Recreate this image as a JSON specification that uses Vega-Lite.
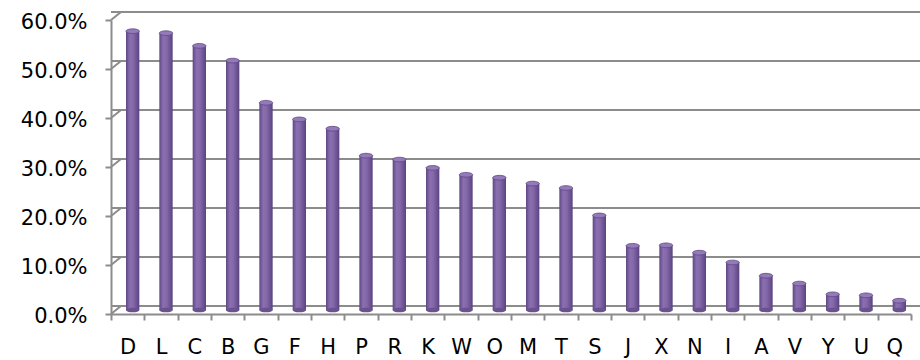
{
  "$schema": "https://vega.github.io/schema/vega-lite/v6.json",
  "width": 800,
  "height": 294,
  "autosize": {"type": "none"},
  "padding": {"left": 111, "top": 20, "right": 9, "bottom": 46},
  "background": "white",
  "config": {"view": {"stroke": null}, "font": "DejaVu Sans"},
  "datasets": {
    "bars": [
      {"cat": "D", "v": 0.569}, {"cat": "L", "v": 0.565}, {"cat": "C", "v": 0.539}, {"cat": "B", "v": 0.509},
      {"cat": "G", "v": 0.423}, {"cat": "F", "v": 0.389}, {"cat": "H", "v": 0.370}, {"cat": "P", "v": 0.315},
      {"cat": "R", "v": 0.307}, {"cat": "K", "v": 0.290}, {"cat": "W", "v": 0.276}, {"cat": "O", "v": 0.270},
      {"cat": "M", "v": 0.258}, {"cat": "T", "v": 0.249}, {"cat": "S", "v": 0.193}, {"cat": "J", "v": 0.131},
      {"cat": "X", "v": 0.132}, {"cat": "N", "v": 0.117}, {"cat": "I", "v": 0.097}, {"cat": "A", "v": 0.070},
      {"cat": "V", "v": 0.054}, {"cat": "Y", "v": 0.032}, {"cat": "U", "v": 0.030}, {"cat": "Q", "v": 0.019}
    ],
    "grid": [{"g": 0}, {"g": 0.1}, {"g": 0.2}, {"g": 0.3}, {"g": 0.4}, {"g": 0.5}, {"g": 0.6}]
  },
  "layer": [
    {
      "data": {"name": "grid"},
      "mark": {"type": "rule", "xOffset": 10, "x2Offset": 10, "yOffset": -8, "color": "#8c8c8c", "strokeWidth": 2},
      "encoding": {
        "y": {
          "field": "g", "type": "quantitative", "scale": {"domain": [0, 0.6]},
          "axis": {
            "title": null, "format": ".1%", "values": [0, 0.1, 0.2, 0.3, 0.4, 0.5, 0.6],
            "labelFontSize": 21, "labelColor": "#000000", "labelPadding": 18, "labelOffset": 2,
            "domainColor": "#8c8c8c", "domainWidth": 2, "tickColor": "#8c8c8c", "tickWidth": 2,
            "tickSize": 6, "grid": false
          }
        }
      }
    },
    {
      "data": {"name": "grid"},
      "mark": {"type": "rule", "y2Offset": -8, "color": "#8c8c8c", "strokeWidth": 2},
      "encoding": {
        "x": {"value": 0},
        "x2": {"value": 10},
        "y": {"field": "g", "type": "quantitative"},
        "y2": {"field": "g"}
      }
    },
    {
      "data": {"name": "bars"},
      "mark": {
        "type": "bar",
        "width": {"band": 0.4},
        "xOffset": 5,
        "yOffset": -4,
        "y2Offset": -4,
        "fill": {
          "gradient": "linear", "x1": 0, "x2": 1, "y1": 0, "y2": 0,
          "stops": [
            {"offset": 0, "color": "#5f4784"},
            {"offset": 0.3, "color": "#8a70b0"},
            {"offset": 0.55, "color": "#8468aa"},
            {"offset": 1, "color": "#5a4380"}
          ]
        }
      },
      "encoding": {
        "x": {
          "field": "cat", "type": "nominal", "sort": null,
          "scale": {"paddingInner": 0, "paddingOuter": 0},
          "axis": {
            "title": null, "labelAngle": 0, "labelFontSize": 21, "labelColor": "#000000",
            "labelPadding": 16, "domainColor": "#8c8c8c", "domainWidth": 2,
            "tickColor": "#8c8c8c", "tickWidth": 2, "tickSize": 6, "tickBand": "extent", "grid": false
          }
        },
        "y": {"field": "v", "type": "quantitative"}
      }
    },
    {
      "data": {"name": "bars"},
      "mark": {
        "type": "point", "filled": true, "size": 178, "xOffset": 5, "yOffset": -4,
        "shape": "M-1,0A1,0.35,0,1,1,1,0A1,0.35,0,1,1,-1,0Z",
        "fill": "#6a5290", "opacity": 1
      },
      "encoding": {
        "x": {"field": "cat", "type": "nominal", "sort": null},
        "y": {"datum": 0, "type": "quantitative"}
      }
    },
    {
      "data": {"name": "bars"},
      "mark": {
        "type": "point", "filled": true, "size": 178, "xOffset": 5, "yOffset": -4,
        "shape": "M-1,0A1,0.35,0,1,1,1,0A1,0.35,0,1,1,-1,0Z",
        "fill": "#927bb8", "stroke": "#5f4784", "strokeWidth": 0.8, "opacity": 1
      },
      "encoding": {
        "x": {"field": "cat", "type": "nominal", "sort": null},
        "y": {"field": "v", "type": "quantitative"}
      }
    }
  ]
}
